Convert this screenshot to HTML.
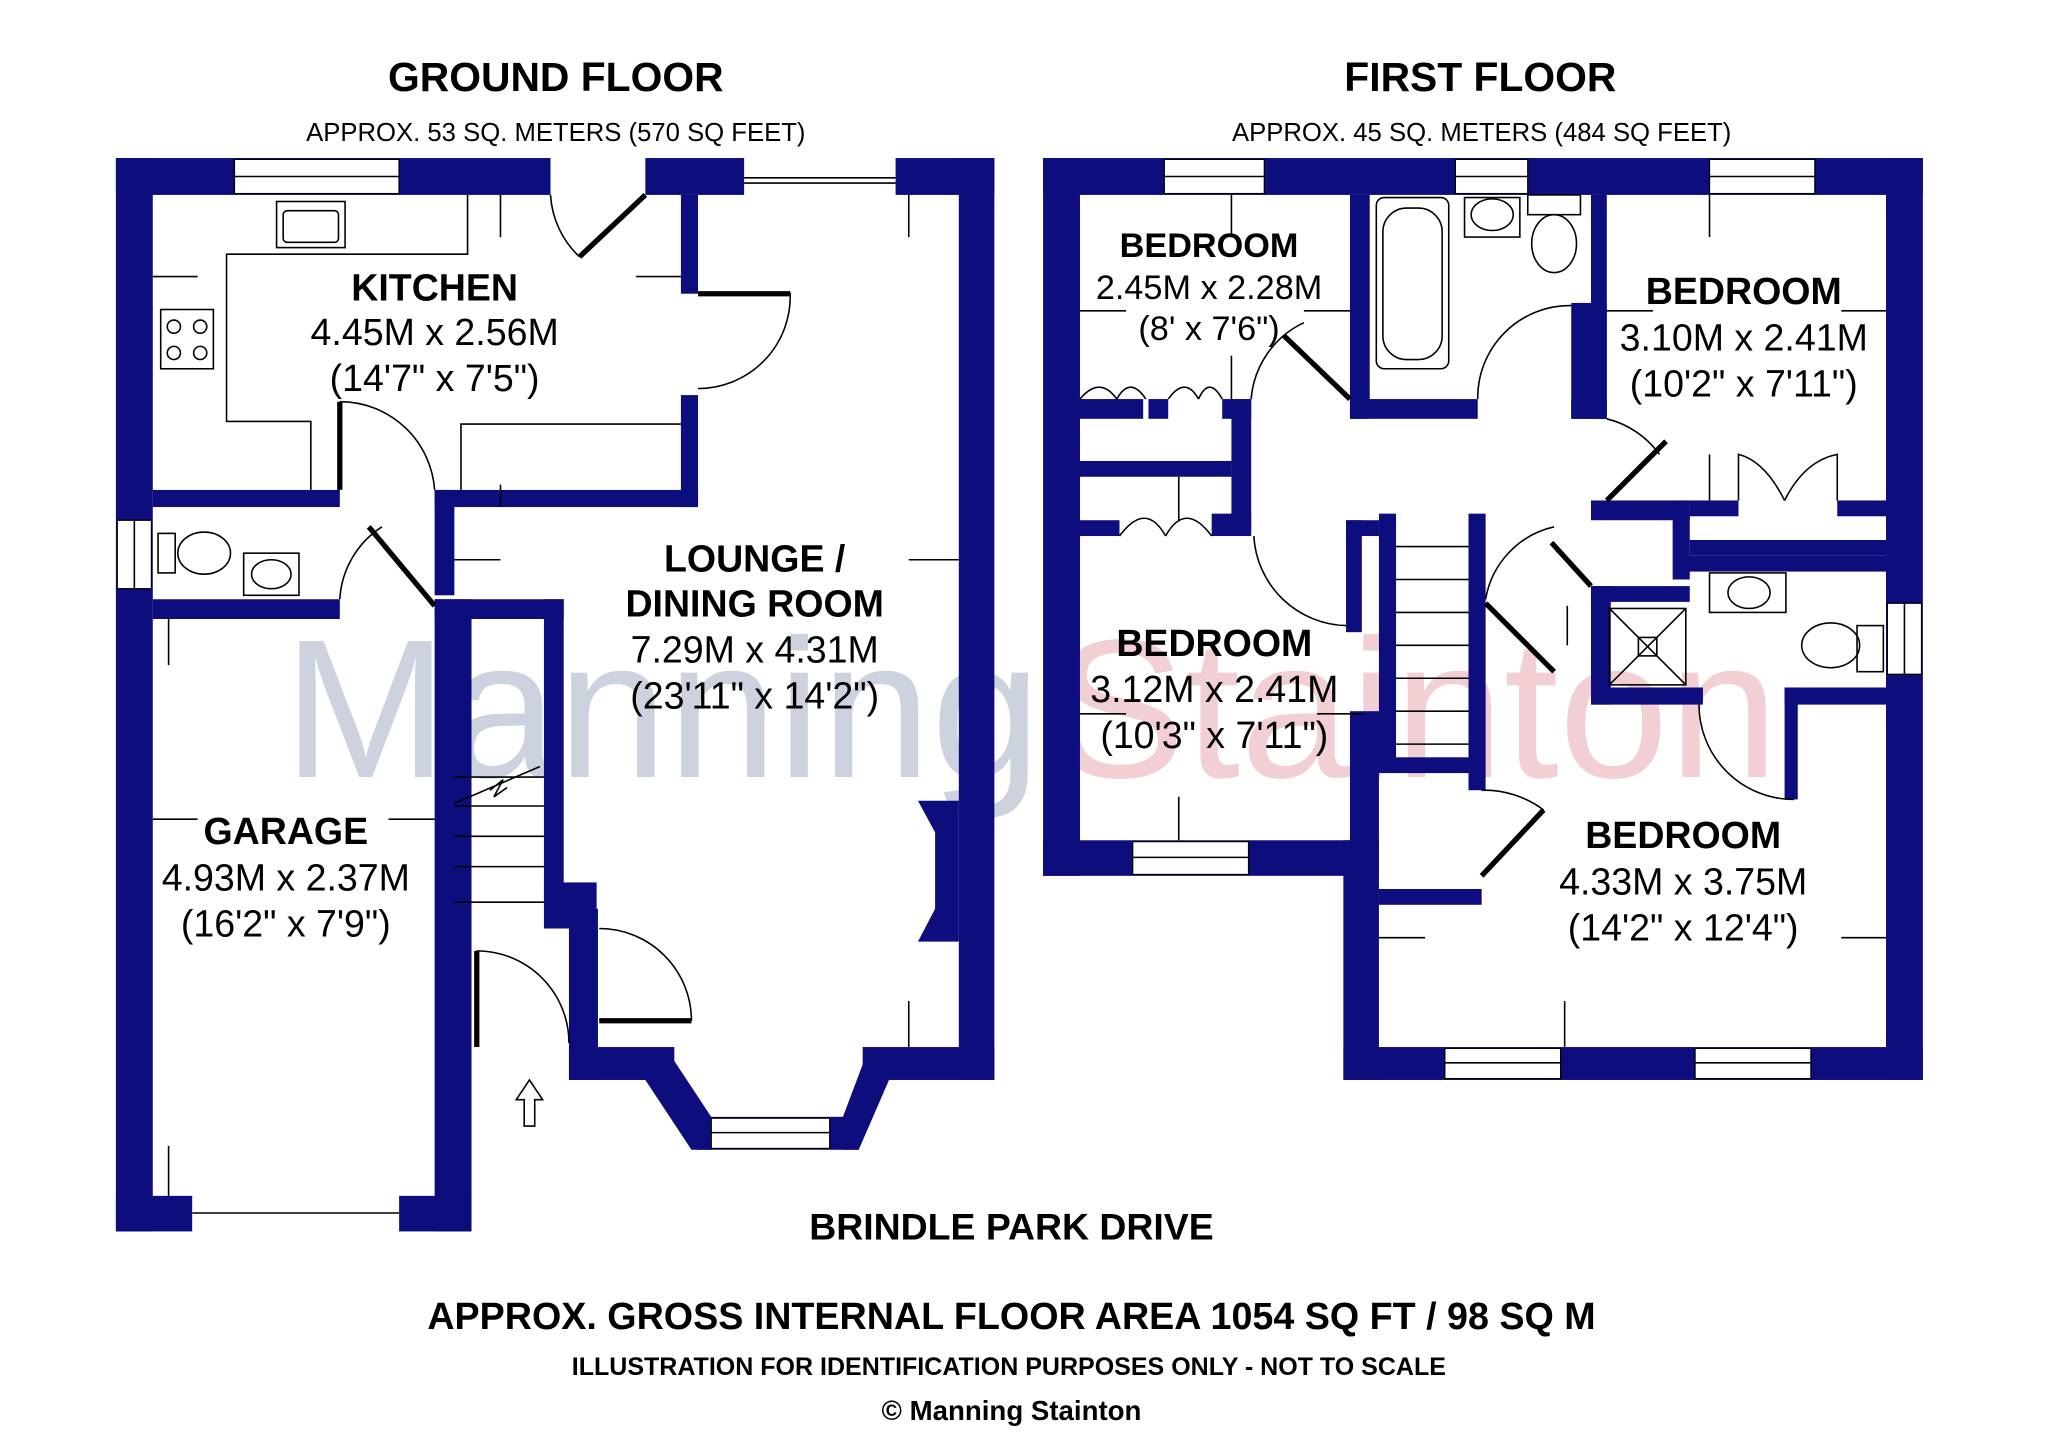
<!DOCTYPE html>
<html><head><meta charset="utf-8"><style>
html,body{margin:0;padding:0;background:#fff}
svg{display:block}
text{font-family:"Liberation Sans",Arial,sans-serif;fill:#000}
.h{font-weight:bold}
</style></head><body>
<svg width="2048" height="1454" viewBox="0 0 1555 1104" xmlns="http://www.w3.org/2000/svg">
<rect width="1555" height="1104" fill="#fff"/>
<text x="215" y="590" font-size="150" style="fill:#ccd3de">Manning</text>
<text x="800" y="590" font-size="150" style="fill:#f2cfd3">Stainton</text>

<g fill="#0d0d7d">
<rect x="88" y="120" width="28" height="815"/>
<rect x="88" y="120" width="330" height="28"/>
<rect x="490" y="120" width="75" height="28"/>
<rect x="680" y="120" width="75" height="28"/>
<rect x="728" y="120" width="27" height="700"/>
<rect x="517" y="148" width="13" height="75"/>
<rect x="517" y="300" width="13" height="85"/>
<rect x="116" y="372" width="142" height="13"/>
<rect x="330" y="372" width="200" height="13"/>
<rect x="116" y="455" width="142" height="15"/>
<rect x="330" y="372" width="15" height="80"/>
<rect x="330" y="455" width="98" height="15"/>
<rect x="413" y="455" width="15" height="230"/>
<rect x="413" y="670" width="40" height="35"/>
<rect x="432" y="690" width="22" height="130"/>
<rect x="330" y="455" width="28" height="480"/>
<rect x="88" y="908" width="58" height="27"/>
<rect x="303" y="908" width="55" height="27"/>
<rect x="432" y="795" width="80" height="25"/>
<rect x="655" y="795" width="100" height="25"/>
<polygon points="505,795 540,848 540,873 525,873 490,820"/>
<polygon points="660,795 640,848 640,873 652,873 675,820"/>
<rect x="530" y="848" width="122" height="25"/>
<polygon points="697,608 728,608 728,715 697,715 710,690 710,632"/>
<rect x="792" y="120" width="28" height="545"/>
<rect x="792" y="120" width="668" height="28"/>
<rect x="1432" y="120" width="28" height="700"/>
<rect x="792" y="638" width="255" height="27"/>
<rect x="1020" y="638" width="27" height="182"/>
<rect x="1020" y="795" width="440" height="25"/>
<rect x="1025" y="148" width="15" height="170"/>
<rect x="1025" y="303" width="97" height="15"/>
<rect x="1193" y="230" width="27" height="88"/>
<rect x="1208" y="148" width="12" height="170"/>
<rect x="1193" y="303" width="27" height="15"/>
<rect x="820" y="303" width="48" height="15"/>
<rect x="872" y="303" width="15" height="15"/>
<rect x="928" y="303" width="22" height="15"/>
<rect x="935" y="303" width="15" height="100"/>
<rect x="820" y="350" width="115" height="12"/>
<rect x="820" y="395" width="30" height="12"/>
<rect x="920" y="390" width="30" height="17"/>
<rect x="1022" y="395" width="25" height="12"/>
<rect x="1022" y="395" width="12" height="85"/>
<rect x="1025" y="540" width="22" height="100"/>
<rect x="1047" y="390" width="13" height="190"/>
<rect x="1115" y="390" width="13" height="210"/>
<rect x="1047" y="575" width="80" height="12"/>
<rect x="1047" y="675" width="78" height="12"/>
<rect x="1208" y="380" width="75" height="15"/>
<rect x="1283" y="380" width="37" height="12"/>
<rect x="1395" y="380" width="37" height="12"/>
<rect x="1283" y="410" width="150" height="12"/>
<rect x="1270" y="380" width="13" height="60"/>
<rect x="1280" y="422" width="155" height="12"/>
<rect x="1208" y="445" width="75" height="12"/>
<rect x="1208" y="445" width="15" height="90"/>
<rect x="1208" y="522" width="85" height="13"/>
<rect x="1355" y="522" width="80" height="13"/>
<rect x="1355" y="522" width="10" height="85"/>
</g>

<g fill="#fff" stroke="#000" stroke-width="1">
<rect x="178" y="121" width="125" height="26"/>
<rect x="89" y="395" width="26" height="52"/>
<rect x="146" y="909" width="157" height="25" stroke="none"/>
<rect x="540" y="849" width="90" height="23"/>
<rect x="884" y="121" width="76" height="26"/>
<rect x="1105" y="121" width="55" height="26"/>
<rect x="1298" y="121" width="80" height="26"/>
<rect x="860" y="639" width="88" height="25"/>
<rect x="1097" y="796" width="88" height="23"/>
<rect x="1287" y="796" width="88" height="23"/>
<rect x="1433" y="458" width="26" height="54"/>
</g>
<g stroke="#000" stroke-width="1.2" fill="none">
<line x1="178" y1="134" x2="303" y2="134"/>
<line x1="102" y1="395" x2="102" y2="447"/>
<line x1="146" y1="921" x2="303" y2="921"/>
<line x1="565" y1="135" x2="680" y2="135"/><line x1="565" y1="139" x2="680" y2="139"/>
<line x1="540" y1="860" x2="630" y2="860"/>
<line x1="884" y1="134" x2="960" y2="134"/>
<line x1="1105" y1="134" x2="1160" y2="134"/>
<line x1="1298" y1="134" x2="1378" y2="134"/>
<line x1="860" y1="651" x2="948" y2="651"/>
<line x1="1097" y1="807" x2="1185" y2="807"/>
<line x1="1287" y1="807" x2="1375" y2="807"/>
<line x1="1446" y1="458" x2="1446" y2="512"/>
<path d="M355 148 V193 H172 V320 H236 V372 M350 372 V322 H517"/>
<rect x="210" y="153" width="52" height="35"/><rect x="215" y="160" width="42" height="24" rx="3"/>
<rect x="122" y="235" width="40" height="45"/>
<circle cx="132" cy="248" r="5"/><circle cx="152" cy="248" r="5"/><circle cx="132" cy="268" r="5"/><circle cx="152" cy="268" r="5"/>
<path d="M418 148 A70 70 0 0 0 440 195"/><line x1="440" y1="195" x2="490" y2="148" stroke-width="4"/>
<path d="M530 223 H600 A70 70 0 0 1 530 295"/><line x1="530" y1="223" x2="600" y2="223" stroke-width="4"/>
<path d="M258 305 A72 72 0 0 1 330 372"/><line x1="258" y1="305" x2="258" y2="372" stroke-width="4"/>
<path d="M258 455 A70 70 0 0 1 290 400"/><line x1="280" y1="400" x2="330" y2="460" stroke-width="4"/>
<path d="M455 705 A70 70 0 0 1 525 775"/><line x1="455" y1="775" x2="525" y2="775" stroke-width="4"/>
<path d="M362 722 A70 70 0 0 1 432 792"/><line x1="362" y1="722" x2="362" y2="795" stroke-width="4"/>
<path d="M345 590 H413 M345 612 H413 M345 635 H413 M345 658 H413 M345 685 H413"/>
<path d="M345 610 L410 582 M372 600 L382 592 L375 605 L385 598" />
<path d="M402 820 L392 835 H398 V855 H406 V835 H412 Z"/>
<ellipse cx="155" cy="420" rx="20" ry="16"/><rect x="120" y="405" width="13" height="30"/>
<rect x="185" y="420" width="42" height="32"/><ellipse cx="206" cy="436" rx="15" ry="11"/>
<rect x="1045" y="150" width="55" height="130" rx="6"/><rect x="1050" y="158" width="45" height="115" rx="18"/>
<rect x="1112" y="150" width="42" height="30"/><ellipse cx="1133" cy="163" rx="16" ry="12"/>
<rect x="1160" y="148" width="40" height="15"/><ellipse cx="1180" cy="185" rx="17" ry="22"/>
<path d="M1122 303 A70 70 0 0 1 1193 232"/>
<path d="M950 303 A70 70 0 0 1 990 245"/><line x1="975" y1="255" x2="1025" y2="303" stroke-width="4"/>
<path d="M1220 318 A70 70 0 0 1 1260 345"/><line x1="1265" y1="335" x2="1220" y2="380" stroke-width="4"/>
<path d="M952 407 A72 72 0 0 0 1022 475"/>
<path d="M1128 455 A68 68 0 0 1 1180 400"/><line x1="1178" y1="412" x2="1208" y2="445" stroke-width="4"/>
<line x1="1128" y1="458" x2="1180" y2="510" stroke-width="4"/>
<path d="M1125 600 A75 75 0 0 1 1172 615"/><line x1="1125" y1="665" x2="1172" y2="615" stroke-width="4"/>
<path d="M1290 535 A72 72 0 0 0 1362 607"/>
<path d="M820 303 Q835 285 848 303 M848 303 Q858 285 870 303 M887 303 Q900 285 910 303 M910 303 Q918 285 928 303"/>
<path d="M850 407 Q870 380 885 407 M885 407 Q900 380 920 407"/>
<path d="M1320 380 V345 Q1340 350 1355 380 M1355 380 Q1370 350 1395 345 V380"/>
<path d="M1060 415 H1115 M1060 440 H1115 M1060 465 H1115 M1060 490 H1115 M1060 515 H1115 M1060 540 H1115 M1060 565 H1115"/>
<rect x="1222" y="462" width="58" height="58"/><path d="M1222 462 L1280 520 M1280 462 L1222 520"/><rect x="1244" y="484" width="14" height="14"/>
<rect x="1298" y="435" width="58" height="30"/><ellipse cx="1328" cy="450" rx="16" ry="12"/>
<ellipse cx="1390" cy="490" rx="22" ry="17"/><rect x="1410" y="475" width="20" height="35"/>
<path d="M116 210 H150 M380 148 V180 M483 210 H517 M690 148 V180 M380 385 V368 M345 425 H380 M728 425 H690 M128 470 V505 M116 622 H150 M330 622 H295 M128 908 V870 M690 795 V760 M935 148 V180 M820 236 H855 M1025 236 H990 M935 303 V270 M895 362 V395 M820 542 H855 M1035 542 H1000 M895 638 V605 M1220 236 H1255 M1432 236 H1398 M1298 148 V180 M1298 380 V345 M1190 490 V460 M1047 712 H1082 M1432 712 H1398 M1188 795 V760"/>
</g>

<text x="422" y="69" class="h" font-size="31" text-anchor="middle">GROUND FLOOR</text>
<text x="422" y="107" font-size="19.5" text-anchor="middle">APPROX. 53 SQ. METERS (570 SQ FEET)</text>
<text x="1124" y="69" class="h" font-size="31" text-anchor="middle">FIRST FLOOR</text>
<text x="1125" y="107" font-size="19.5" text-anchor="middle">APPROX. 45 SQ. METERS (484 SQ FEET)</text>

<g font-size="28.5" text-anchor="middle">
<text x="330" y="228" class="h">KITCHEN</text>
<text x="330" y="262">4.45M x 2.56M</text>
<text x="330" y="297">(14'7" x 7'5")</text>
<text x="573" y="434" class="h">LOUNGE /</text>
<text x="573" y="468" class="h">DINING ROOM</text>
<text x="573" y="503">7.29M x 4.31M</text>
<text x="573" y="538">(23'11" x 14'2")</text>
<text x="217" y="641" class="h">GARAGE</text>
<text x="217" y="676">4.93M x 2.37M</text>
<text x="217" y="711">(16'2" x 7'9")</text>
<text x="918" y="195" class="h" font-size="26">BEDROOM</text>
<text x="918" y="227" font-size="26">2.45M x 2.28M</text>
<text x="918" y="258" font-size="26">(8' x 7'6")</text>
<text x="1324" y="231" class="h">BEDROOM</text>
<text x="1324" y="266">3.10M x 2.41M</text>
<text x="1324" y="301">(10'2" x 7'11")</text>
<text x="922" y="498" class="h">BEDROOM</text>
<text x="922" y="533">3.12M x 2.41M</text>
<text x="922" y="568">(10'3" x 7'11")</text>
<text x="1278" y="644" class="h">BEDROOM</text>
<text x="1278" y="679">4.33M x 3.75M</text>
<text x="1278" y="714">(14'2" x 12'4")</text>
</g>
<text x="768" y="941" class="h" font-size="28.4" text-anchor="middle">BRINDLE PARK DRIVE</text>
<text x="768" y="1009" class="h" font-size="28.6" text-anchor="middle">APPROX. GROSS INTERNAL FLOOR AREA 1054 SQ FT / 98 SQ M</text>
<text x="766" y="1044" class="h" font-size="19" text-anchor="middle">ILLUSTRATION FOR IDENTIFICATION PURPOSES ONLY - NOT TO SCALE</text>
<text x="768" y="1078" class="h" font-size="21" text-anchor="middle">© Manning Stainton</text>
</svg>
</body></html>
